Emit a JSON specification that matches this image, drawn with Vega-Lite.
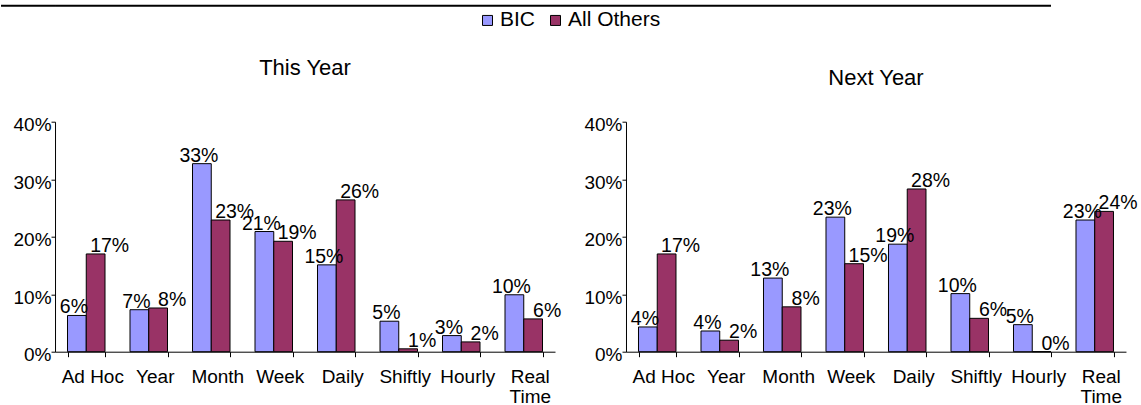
{
  "$schema": "https://vega.github.io/schema/vega-lite/v6.json",
  "padding": {"left": 0, "top": 4.7, "right": 0, "bottom": 0},
  "config": {
    "font": "Liberation Sans",
    "view": {"stroke": null},
    "axis": {"grid": false, "domainColor": "black", "tickColor": "black", "labelColor": "black", "labelFont": "Liberation Sans"},
    "title": {"color": "black", "fontWeight": "normal", "font": "Liberation Sans"}
  },
  "datasets": {
    "thisYear": [
      {"cat": "Ad Hoc", "series": "BIC", "v": 0.063},
      {"cat": "Ad Hoc", "series": "All Others", "v": 0.170},
      {"cat": "Year", "series": "BIC", "v": 0.073},
      {"cat": "Year", "series": "All Others", "v": 0.076},
      {"cat": "Month", "series": "BIC", "v": 0.327},
      {"cat": "Month", "series": "All Others", "v": 0.229},
      {"cat": "Week", "series": "BIC", "v": 0.209},
      {"cat": "Week", "series": "All Others", "v": 0.192},
      {"cat": "Daily", "series": "BIC", "v": 0.151},
      {"cat": "Daily", "series": "All Others", "v": 0.264},
      {"cat": "Shiftly", "series": "BIC", "v": 0.053},
      {"cat": "Shiftly", "series": "All Others", "v": 0.005},
      {"cat": "Hourly", "series": "BIC", "v": 0.028},
      {"cat": "Hourly", "series": "All Others", "v": 0.017},
      {"cat": "Real Time", "series": "BIC", "v": 0.099},
      {"cat": "Real Time", "series": "All Others", "v": 0.057}
    ],
    "nextYear": [
      {"cat": "Ad Hoc", "series": "BIC", "v": 0.043},
      {"cat": "Ad Hoc", "series": "All Others", "v": 0.170},
      {"cat": "Year", "series": "BIC", "v": 0.036},
      {"cat": "Year", "series": "All Others", "v": 0.020},
      {"cat": "Month", "series": "BIC", "v": 0.128},
      {"cat": "Month", "series": "All Others", "v": 0.078},
      {"cat": "Week", "series": "BIC", "v": 0.234},
      {"cat": "Week", "series": "All Others", "v": 0.153},
      {"cat": "Daily", "series": "BIC", "v": 0.187},
      {"cat": "Daily", "series": "All Others", "v": 0.283},
      {"cat": "Shiftly", "series": "BIC", "v": 0.101},
      {"cat": "Shiftly", "series": "All Others", "v": 0.058},
      {"cat": "Hourly", "series": "BIC", "v": 0.047},
      {"cat": "Hourly", "series": "All Others", "v": 0.0},
      {"cat": "Real Time", "series": "BIC", "v": 0.229},
      {"cat": "Real Time", "series": "All Others", "v": 0.244}
    ]
  },
  "resolve": {"scale": {"color": "shared"}, "legend": {"color": "shared"}},
  "spacing": 50,
  "vconcat": [
    {
      "data": {"values": [{}]},
      "width": 996,
      "height": 1,
      "mark": {"type": "rule", "strokeWidth": 2, "color": "black"},
      "encoding": {"y": {"datum": 1, "type": "quantitative", "scale": {"domain": [0, 1]},
        "axis": {"title": null, "values": [1], "labels": false, "domain": false, "ticks": true, "tickSize": 54, "tickWidth": 2, "tickColor": "black", "translate": 0, "minExtent": 54, "maxExtent": 54}}}
    },
    {
      "bounds": "flush",
      "spacing": 71,
      "resolve": {"scale": {"color": "shared"}, "legend": {"color": "shared"}},
      "hconcat": [
        {
          "data": {"name": "thisYear"},
          "width": 500,
          "height": 230,
          "title": {"text": "This Year", "fontSize": 22, "offset": 36, "anchor": "middle", "frame": "group"},
          "encoding": {
            "x": {"field": "cat", "type": "nominal", "sort": ["Ad Hoc", "Year", "Month", "Week", "Daily", "Shiftly", "Hourly", "Real Time"],
              "scale": {"paddingInner": 0.4, "paddingOuter": 0.2},
              "axis": {"title": null, "labelAngle": 0, "tickBand": "extent", "tickSize": 5, "labelFontSize": 19, "labelPadding": 11, "labelOffset": 6, "labelOverlap": false, "labelLimit": 0, "labelLineHeight": 20, "labelExpr": "datum.value == 'Real Time' ? ['Real', 'Time'] : datum.value"}},
            "xOffset": {"field": "series", "type": "nominal", "sort": ["BIC", "All Others"], "scale": {"paddingInner": 0, "paddingOuter": 0}},
            "y": {"field": "v", "type": "quantitative", "scale": {"domain": [0, 0.4]},
              "axis": {"title": null, "values": [0, 0.1, 0.2, 0.3, 0.4], "format": ".0%", "tickSize": 4, "labelFontSize": 19, "labelPadding": 0, "labelOffset": 3, "labelFlush": false, "minExtent": 54}}
          },
          "layer": [
            {"mark": {"type": "bar", "stroke": "black", "strokeWidth": 1},
             "encoding": {"color": {"field": "series", "type": "nominal", "sort": ["BIC", "All Others"],
               "scale": {"domain": ["BIC", "All Others"], "range": ["#9999FF", "#993366"]},
               "legend": {"title": null, "orient": "none", "legendX": 422, "legendY": 4, "direction": "horizontal", "symbolType": "square", "symbolSize": 100, "symbolStrokeColor": "black", "symbolStrokeWidth": 1, "symbolOpacity": 1, "labelFontSize": 21, "labelColor": "black", "labelOffset": 2, "columnPadding": 9, "padding": 0}}}},
            {"transform": [{"filter": "datum.series == 'BIC'"}],
             "mark": {"type": "text", "baseline": "alphabetic", "dy": -2, "dx": -3, "fontSize": 19.5, "color": "black"},
             "encoding": {"text": {"field": "v", "type": "quantitative", "format": ".0%"}}},
            {"transform": [{"filter": "datum.series == 'All Others'"}],
             "mark": {"type": "text", "baseline": "alphabetic", "dy": -2, "dx": 14, "fontSize": 19.5, "color": "black"},
             "encoding": {"text": {"field": "v", "type": "quantitative", "format": ".0%"}}}
          ]
        },
        {
          "data": {"name": "nextYear"},
          "width": 500,
          "height": 230,
          "title": {"text": "Next Year", "fontSize": 22, "offset": 26, "anchor": "middle", "frame": "group"},
          "encoding": {
            "x": {"field": "cat", "type": "nominal", "sort": ["Ad Hoc", "Year", "Month", "Week", "Daily", "Shiftly", "Hourly", "Real Time"],
              "scale": {"paddingInner": 0.4, "paddingOuter": 0.2},
              "axis": {"title": null, "labelAngle": 0, "tickBand": "extent", "tickSize": 5, "labelFontSize": 19, "labelPadding": 11, "labelOffset": 6, "labelOverlap": false, "labelLimit": 0, "labelLineHeight": 20, "labelExpr": "datum.value == 'Real Time' ? ['Real', 'Time'] : datum.value"}},
            "xOffset": {"field": "series", "type": "nominal", "sort": ["BIC", "All Others"], "scale": {"paddingInner": 0, "paddingOuter": 0}},
            "y": {"field": "v", "type": "quantitative", "scale": {"domain": [0, 0.4]},
              "axis": {"title": null, "values": [0, 0.1, 0.2, 0.3, 0.4], "format": ".0%", "tickSize": 4, "labelFontSize": 19, "labelPadding": 0, "labelOffset": 3, "labelFlush": false}}
          },
          "layer": [
            {"mark": {"type": "bar", "stroke": "black", "strokeWidth": 1},
             "encoding": {"color": {"field": "series", "type": "nominal", "sort": ["BIC", "All Others"],
               "scale": {"domain": ["BIC", "All Others"], "range": ["#9999FF", "#993366"]}}}},
            {"transform": [{"filter": "datum.series == 'BIC'"}],
             "mark": {"type": "text", "baseline": "alphabetic", "dy": -2, "dx": -3, "fontSize": 19.5, "color": "black"},
             "encoding": {"text": {"field": "v", "type": "quantitative", "format": ".0%"}}},
            {"transform": [{"filter": "datum.series == 'All Others'"}],
             "mark": {"type": "text", "baseline": "alphabetic", "dy": -2, "dx": 14, "fontSize": 19.5, "color": "black"},
             "encoding": {"text": {"field": "v", "type": "quantitative", "format": ".0%"}}}
          ]
        }
      ]
    }
  ]
}
